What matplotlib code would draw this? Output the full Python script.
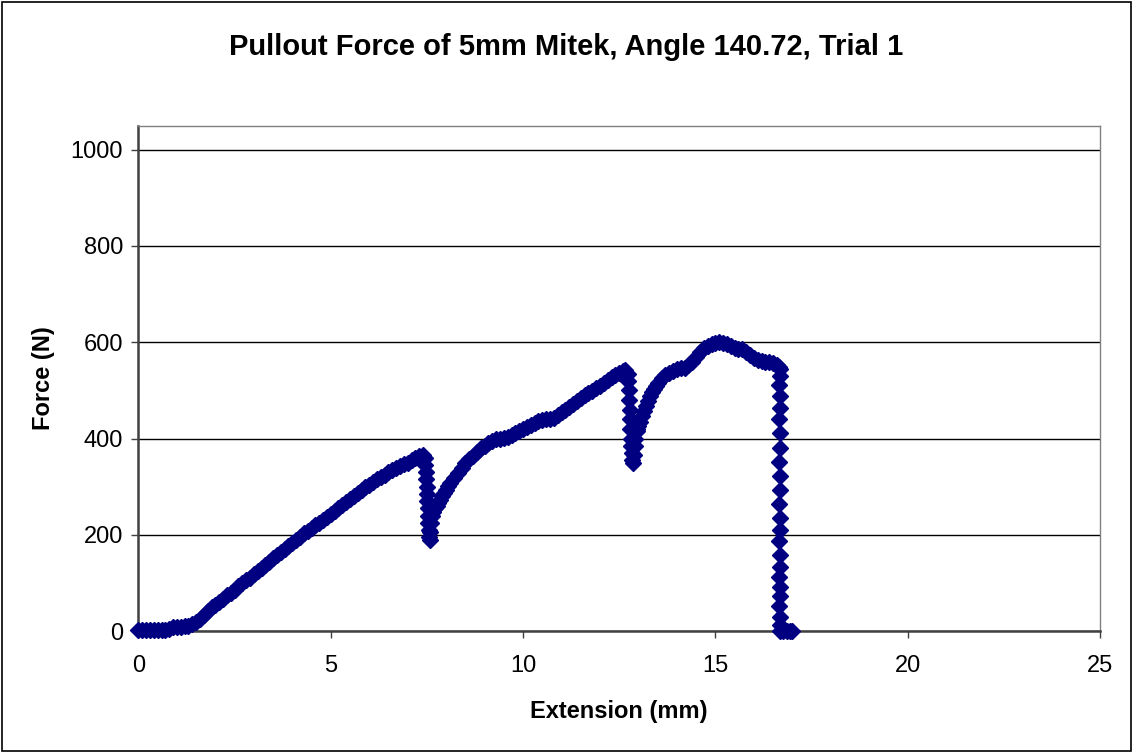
import matplotlib
matplotlib.use("Agg")
import matplotlib.pyplot as plt
from matplotlib.patches import Rectangle

plt.rcParams['font.family'] = ['Liberation Sans', 'DejaVu Sans']

# extension (mm) / force (N) from the pullout test
ext_load = [0.0, 0.1, 0.2, 0.3, 0.4, 0.5, 0.6, 0.7, 0.8, 0.9, 1.0, 1.1, 1.2, 1.3,
            1.4, 1.5, 1.6, 1.7, 1.8, 1.9, 2.0, 2.1, 2.2, 2.3, 2.4, 2.5, 2.6, 2.7,
            2.8, 2.9, 3.0, 3.1, 3.2, 3.3, 3.4, 3.5, 3.6, 3.7, 3.8, 3.9, 4.0, 4.1,
            4.2, 4.3, 4.4, 4.5, 4.6, 4.7, 4.8, 4.9, 5.0, 5.1, 5.2, 5.3, 5.4, 5.5,
            5.6, 5.7, 5.8, 5.9, 6.0, 6.1, 6.2, 6.3, 6.4, 6.5, 6.6, 6.7, 6.8, 6.9,
            7.0, 7.1, 7.2, 7.3, 7.4]
force_load = [2, 3, 2, 3, 3, 2, 3, 3, 4, 8, 9, 9, 10, 11,
              14, 19, 26, 34, 42, 49, 55, 61, 67, 74, 80, 86, 93, 99,
              105, 111, 118, 124, 131, 138, 144, 151, 157, 164, 170, 177, 183, 190,
              196, 203, 208, 214, 220, 225, 231, 237, 243, 250, 256, 262, 268, 274,
              280, 287, 293, 299, 304, 309, 315, 320, 325, 330, 334, 338, 342, 346,
              350, 355, 360, 364, 366]

# first slip
ext_slip1 = [7.44, 7.46, 7.47, 7.48, 7.49, 7.50, 7.51, 7.52, 7.53, 7.54, 7.55,
             7.56, 7.57, 7.59, 7.61, 7.63]
force_slip1 = [360, 345, 330, 315, 300, 285, 270, 255, 240, 225, 210,
               195, 190, 205, 225, 240]

ext_reload1 = [7.65, 7.7, 7.75, 7.8, 7.85, 7.9, 7.95, 8.0, 8.05, 8.1, 8.2, 8.3,
               8.4, 8.5, 8.6, 8.7, 8.8, 8.9,
               9.0, 9.1, 9.2, 9.3, 9.4, 9.5, 9.6, 9.7, 9.8, 9.9, 10.0, 10.1,
               10.2, 10.3, 10.4, 10.5, 10.6, 10.7, 10.8, 10.9, 11.0, 11.1, 11.2,
               11.3, 11.4, 11.5, 11.6, 11.7, 11.8, 11.9, 12.0, 12.1, 12.2, 12.3,
               12.4, 12.5, 12.6, 12.65]
force_reload1 = [248, 255, 260, 266, 273, 280, 287, 294, 301, 308, 318, 328,
                 338, 350, 357, 364, 372, 380,
                 385, 390, 394, 398, 400, 401, 404, 408, 412, 415, 420, 424,
                 428, 433, 436, 438, 440, 441, 443, 448, 455, 460, 466,
                 472, 478, 484, 490, 494, 499, 505, 510, 516, 521, 527,
                 532, 536, 540, 543]

# second slip
ext_slip2 = [12.72, 12.74, 12.75, 12.76, 12.77, 12.78, 12.79, 12.80, 12.81,
             12.82, 12.84, 12.86, 12.88, 12.90, 12.92, 12.95]
force_slip2 = [535, 520, 500, 480, 460, 440, 420, 400, 385,
               370, 355, 350, 365, 385, 400, 415]

ext_reload2 = [12.97, 13.0, 13.05, 13.1, 13.15, 13.2, 13.25, 13.3, 13.35, 13.4,
               13.45, 13.5, 13.6, 13.7, 13.8, 13.9,
               14.0, 14.1, 14.2, 14.3, 14.4, 14.5, 14.6, 14.7, 14.8, 14.9, 15.0,
               15.1, 15.2, 15.3, 15.4, 15.5, 15.6, 15.7, 15.8, 15.9, 16.0, 16.1,
               16.2, 16.3, 16.4, 16.5, 16.6, 16.65]
force_reload2 = [420, 425, 435, 446, 457, 468, 478, 488, 496, 503,
                 509, 515, 525, 532, 537, 541,
                 544, 546, 547, 552, 560, 570, 580, 588, 593, 597, 599,
                 600, 598, 596, 592, 588, 586, 585, 580, 573, 567, 563,
                 561, 560, 559, 557, 552, 548]

# final pullout
ext_fail = [16.67, 16.68, 16.66, 16.67, 16.68, 16.66, 16.67, 16.68, 16.66,
            16.67, 16.68, 16.66, 16.67, 16.68, 16.66, 16.67, 16.68, 16.66,
            16.67, 16.68, 16.66, 16.67, 16.68, 16.67, 16.75, 16.85, 16.95, 17.0]
force_fail = [544, 530, 512, 488, 464, 440, 412, 381, 351,
              322, 294, 264, 235, 210, 186, 158, 134, 113,
              92, 72, 51, 30, 12, 0, 0, 0, 0, 0]

extension = ext_load + ext_slip1 + ext_reload1 + ext_slip2 + ext_reload2 + ext_fail
force = force_load + force_slip1 + force_reload1 + force_slip2 + force_reload2 + force_fail

fig = plt.figure(figsize=(11.33, 7.53), dpi=100)
ax = fig.add_axes([0.1222, 0.1620, 0.8487, 0.6711])

ax.plot(extension, force, linestyle='none', marker='D', markersize=8.2,
        color='#000080', markeredgecolor='#000080', markeredgewidth=1.0,
        clip_on=False, zorder=3)

ax.set_xlim(0, 25)
ax.set_ylim(0, 1050)
ax.set_xticks([0, 5, 10, 15, 20, 25])
ax.set_yticks([0, 200, 400, 600, 800, 1000])
ax.yaxis.grid(True, color='black', linewidth=1)
ax.set_axisbelow(True)

ax.tick_params(direction='out', length=5, width=1, color='#404040',
               labelsize=17)
ax.tick_params(axis='x', pad=12)
ax.tick_params(axis='y', pad=6)
for side in ['left', 'bottom']:
    ax.spines[side].set_color('#404040')
    ax.spines[side].set_linewidth(1.8)
for side in ['top', 'right']:
    ax.spines[side].set_color('#808080')
    ax.spines[side].set_linewidth(1)

ax.set_xlabel('Extension (mm)', fontsize=17, fontweight='bold', labelpad=17)
ax.set_ylabel('Force (N)', fontsize=17, fontweight='bold', labelpad=11)
fig.text(0.5, 0.937, 'Pullout Force of 5mm Mitek, Angle 140.72, Trial 1',
         ha='center', va='center', fontsize=21, fontweight='bold')

fig.patches.append(Rectangle((0.002, 0.003), 0.996, 0.994, transform=fig.transFigure,
                             fill=False, edgecolor='black', linewidth=1.2))

fig.savefig('out.png', dpi=100)
